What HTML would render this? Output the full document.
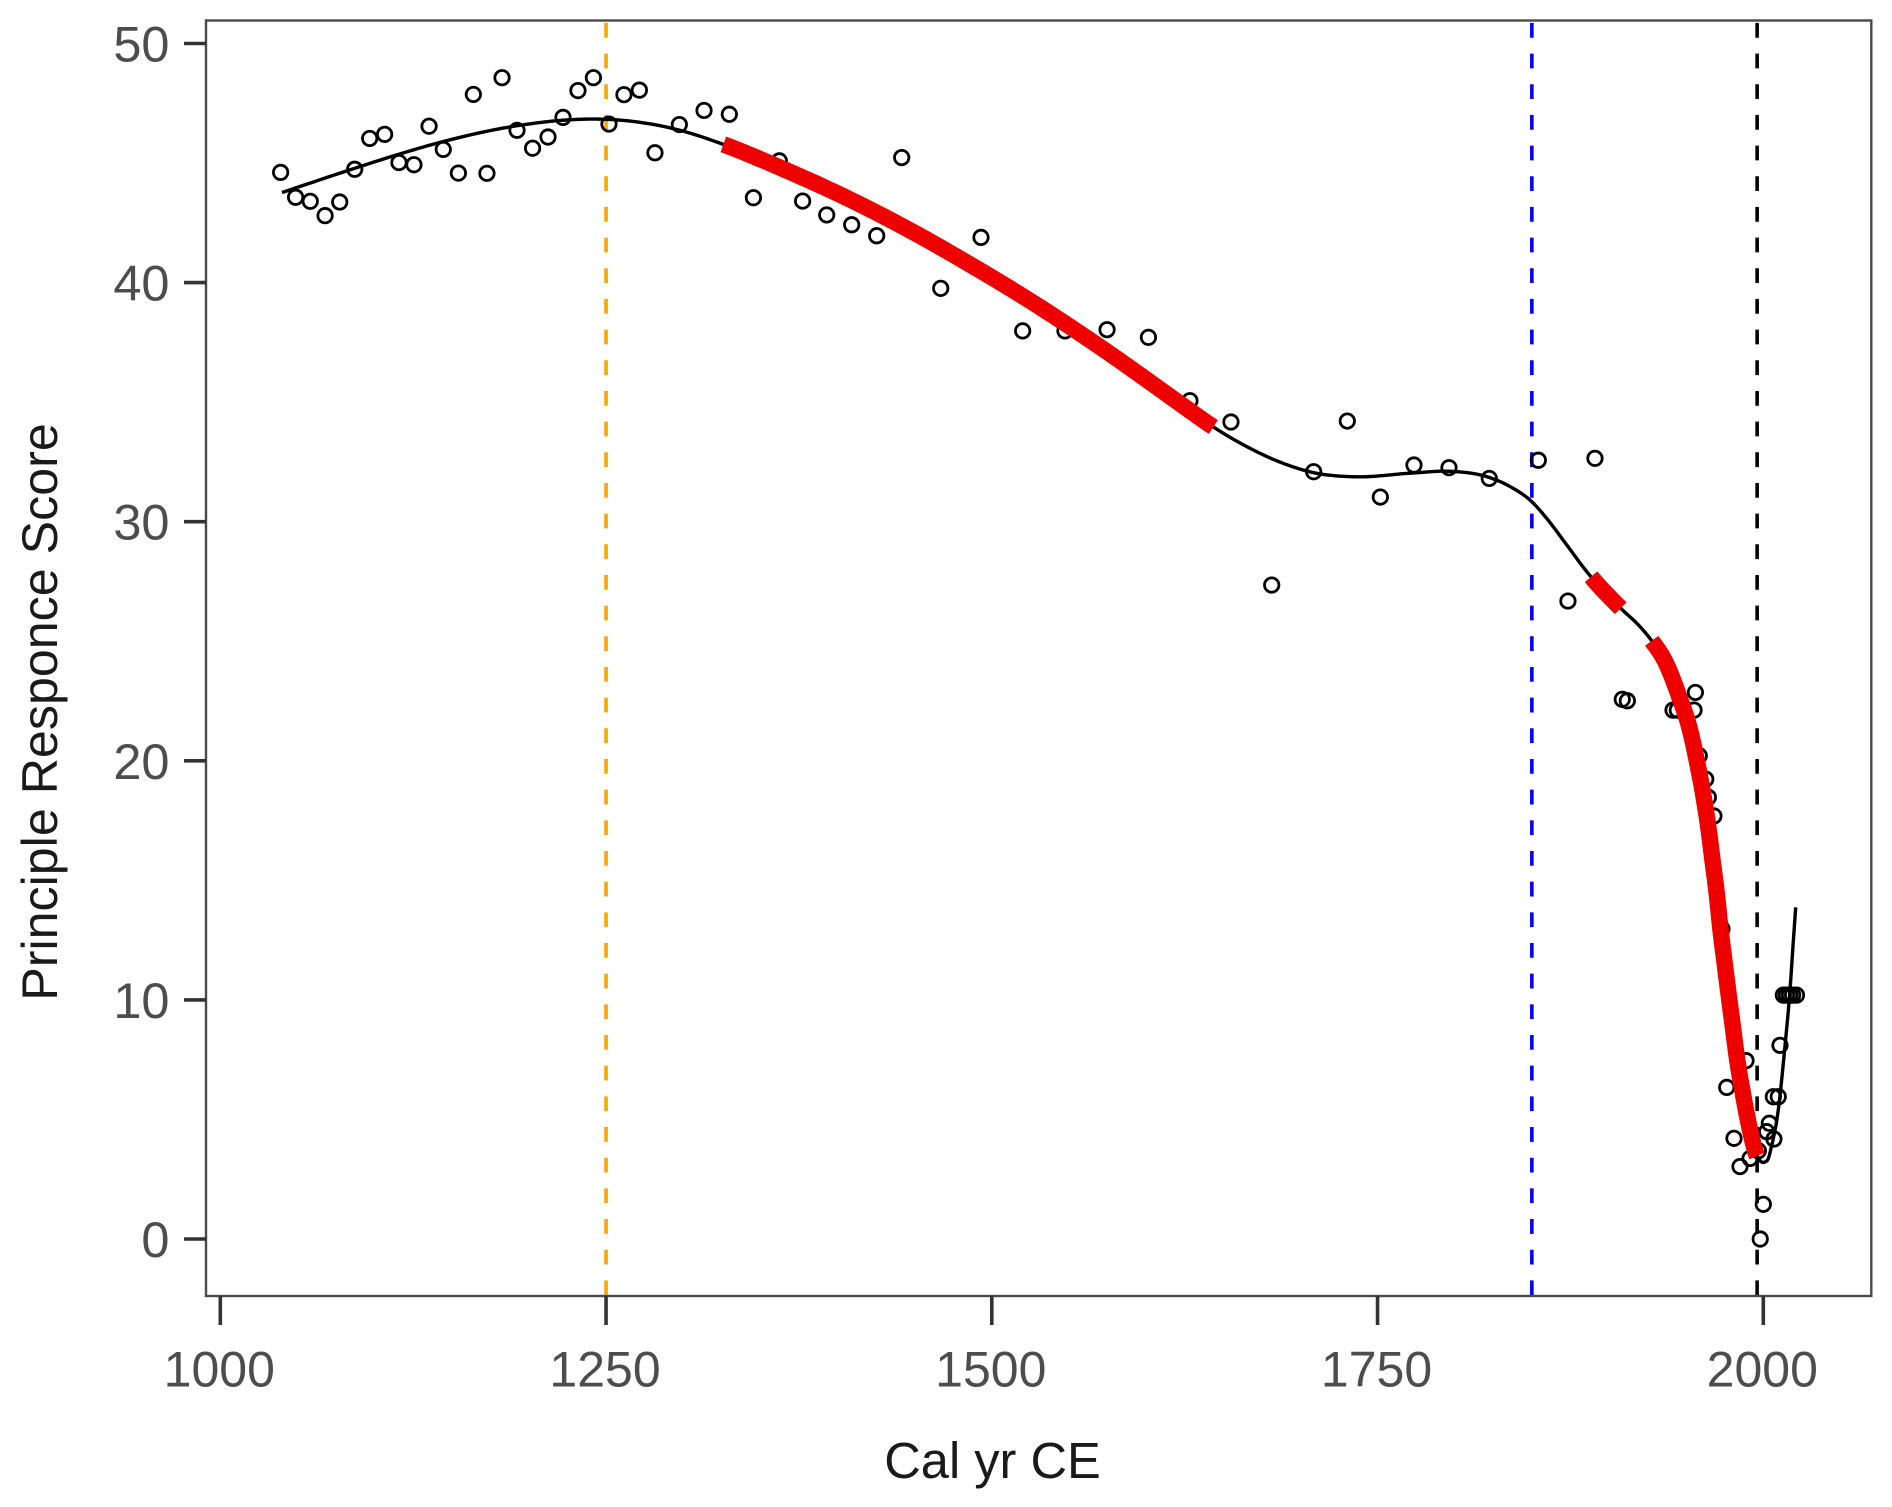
<!DOCTYPE html>
<html lang="en">
<head>
<meta charset="utf-8">
<title>Principle Responce Score by Cal yr CE</title>
<style>
html,body{margin:0;padding:0;background:#fff;width:1892px;height:1507px;overflow:hidden}
svg{display:block}
text{font-family:"Liberation Sans",sans-serif}
</style>
</head>
<body>
<svg id="chart" xmlns="http://www.w3.org/2000/svg" width="1892" height="1507" viewBox="0 0 1892 1507">
  <rect x="0" y="0" width="1892" height="1507" fill="#fff"/>
  <g id="vlines"></g>
  <g id="points" fill="none" stroke="#000" stroke-width="2.8"></g>
  <g id="curves" fill="none"></g>
  <rect x="206" y="20.5" width="1665.3" height="1275.5" fill="none" stroke="#4a4a4a" stroke-width="2.4"/>
  <g id="xaxis"></g>
  <g id="yaxis"></g>
  <text x="992.5" y="1478" text-anchor="middle" font-size="50.6" fill="#1a1a1a">Cal yr CE</text>
  <text transform="translate(57,712) rotate(-90)" text-anchor="middle" font-size="50.2" fill="#1a1a1a">Principle Responce Score</text>
</svg>
<script>
var xTicks = [1000, 1250, 1500, 1750, 2000];
var yTicks = [0, 10, 20, 30, 40, 50];
var vlineYears = [1250, 1850, 1996];
var vlineColors = ["#ffa500", "#0000ff", "#000000"];
var pointYears = [1039.1,1048.8,1058.3,1067.9,1077.4,1087.1,1096.8,1106.5,1115.8,1125.5,1135.3,1144.5,1154.3,1164,1172.8,1182.6,1192.3,1202.4,1212.4,1222.1,1231.8,1241.8,1251.9,1261.6,1271.6,1281.7,1297.5,1313.5,1329.9,1345.5,1362.3,1377.4,1393,1409.2,1425.4,1441.6,1466.9,1493,1520,1547.4,1574.7,1601.5,1628.4,1655,1681.4,1708.6,1730.4,1751.8,1773.6,1796.3,1822.4,1854.2,1873.4,1890.9,1908.6,1911.9,1941.5,1944.3,1955.1,1956,1958.5,1962.7,1964.4,1968,1973.2,1976.3,1981,1984.9,1988.8,1991.4,1996.8,1998,2000,2002.2,2003.9,2006.5,2006.9,2009.7,2010.8,2013,2015,2017,2019,2021.5];
var pointScores = [44.61,43.57,43.40,42.80,43.37,44.74,46.03,46.20,45.02,44.93,46.54,45.57,44.58,47.87,44.57,48.57,46.37,45.62,46.09,46.91,48.03,48.57,46.63,47.86,48.05,45.43,46.61,47.20,47.04,43.55,45.09,43.41,42.83,42.42,41.96,45.23,39.76,41.89,37.98,37.98,38.03,37.71,35.06,34.17,27.35,32.09,34.21,31.03,32.37,32.26,31.81,32.57,26.68,32.65,22.57,22.51,22.12,22.12,22.12,22.86,20.21,19.23,18.47,17.69,12.97,6.34,4.21,3.03,7.46,3.37,3.69,0,1.45,4.49,4.84,5.95,4.18,5.95,8.10,10.2,10.2,10.2,10.2,10.2];
var curveYears = [1040,1087.1,1115.8,1144.5,1192.3,1222.1,1241.5,1263.4,1297.3,1326,1362.3,1397.3,1440.5,1483.7,1526.7,1570.1,1602.5,1624.1,1643.6,1667.3,1688.9,1708.6,1734.1,1773.6,1796.3,1822.4,1835.9,1849.9,1859.6,1872.6,1885.6,1907.6,1920.1,1927.7,1936.9,1945.5,1952.5,1957.2,1961.3,1964.6,1967.3,1970,1972.2,1974.7,1977.4,1980.2,1983.1,1986.7,1991,1995.7,1997.8,2001,2003.4,2005,2009.7,2014,2017.3,2019.2,2021];
var curveScores = [43.77,44.78,45.37,45.90,46.56,46.79,46.84,46.77,46.38,45.78,44.82,43.81,42.41,40.84,39.16,37.31,35.84,34.84,33.96,33.07,32.44,32.05,31.88,32.04,32.11,31.85,31.47,30.84,30.14,29.03,27.91,26.38,25.61,25.02,24.09,22.68,21.29,19.91,18.50,17.11,15.73,14.35,12.97,11.67,10.29,8.91,7.49,6.11,4.68,3.51,3.28,3.22,3.39,3.79,5.40,8.04,10.41,12.21,13.87];
var changeStarts = [1326, 1887.2, 1927.7];
var changeEnds = [1643.6, 1907.6, 1996];

var NS = 'http://www.w3.org/2000/svg';
function xScale(v) { return 220.3 + (v - 1000) * 1.543; }
function yScale(v) { return 1239 - v * 23.91; }
function make(tag, parent, attrs) {
  var el = document.createElementNS(NS, tag);
  for (var k in attrs) el.setAttribute(k, attrs[k]);
  document.getElementById(parent).appendChild(el);
  return el;
}

/* reference lines */
vlineYears.forEach(function (yr, i) {
  var el = make('line', 'vlines', {
    x1: xScale(yr), x2: xScale(yr), y1: 22.9, y2: 1296,
    stroke: vlineColors[i], 'stroke-width': 3.6, 'stroke-dasharray': '14.8 15.87'
  });
  
  
});

/* points */
pointYears.forEach(function (yr, i) {
  var el = make('circle', 'points', { cx: xScale(yr), cy: yScale(pointScores[i]), r: 7.2 });
  
  
});

/* smooth curve: cubic Hermite through the values */
function sampleCurve() {
  var out = [], n = curveYears.length, m = [];
  for (var i = 0; i < n; i++) {
    if (i === 0) m.push((curveScores[1] - curveScores[0]) / (curveYears[1] - curveYears[0]));
    else if (i === n - 1) m.push((curveScores[n - 1] - curveScores[n - 2]) / (curveYears[n - 1] - curveYears[n - 2]));
    else {
      var h0 = curveYears[i] - curveYears[i - 1], h1 = curveYears[i + 1] - curveYears[i];
      var d0 = (curveScores[i] - curveScores[i - 1]) / h0, d1 = (curveScores[i + 1] - curveScores[i]) / h1;
      m.push((d0 * h1 + d1 * h0) / (h0 + h1));
    }
  }
  for (var s = 0; s < n - 1; s++) {
    var h = curveYears[s + 1] - curveYears[s];
    var steps = 16;
    for (var j = 0; j < steps; j++) {
      var t = j / steps, t2 = t * t, t3 = t2 * t;
      out.push([
        curveYears[s] + t * h,
        (2 * t3 - 3 * t2 + 1) * curveScores[s] + (t3 - 2 * t2 + t) * h * m[s] +
        (-2 * t3 + 3 * t2) * curveScores[s + 1] + (t3 - t2) * h * m[s + 1]
      ]);
    }
  }
  out.push([curveYears[n - 1], curveScores[n - 1]]);
  return out;
}
var samples = sampleCurve();
function toPoints(list) {
  return list.map(function (p) { return xScale(p[0]).toFixed(2) + ',' + yScale(p[1]).toFixed(2); }).join(' ');
}
var mainLine = make('polyline', 'curves', { points: toPoints(samples), stroke: '#000', 'stroke-width': 3.4, 'stroke-linejoin': 'round' });



changeStarts.forEach(function (start, i) {
  var seg = samples.filter(function (p) { return p[0] >= start && p[0] <= changeEnds[i]; });
  var el = make('polyline', 'curves', { points: toPoints(seg), stroke: '#ee0000', 'stroke-width': 16.5, 'stroke-linejoin': 'round', 'stroke-linecap': 'butt' });
  
  
});

/* axes */
xTicks.forEach(function (t) {
  var tick = make('line', 'xaxis', { x1: xScale(t), x2: xScale(t), y1: 1296, y2: 1325, stroke: '#333', 'stroke-width': 3.6 });
  
  
  var label = make('text', 'xaxis', { x: xScale(t) - 1, y: 1386.5, 'text-anchor': 'middle', 'font-size': 50, fill: '#4d4d4d' });
  label.textContent = t;
  
  
});
yTicks.forEach(function (t) {
  var tick = make('line', 'yaxis', { x1: 184, x2: 206, y1: yScale(t), y2: yScale(t), stroke: '#333', 'stroke-width': 3.6 });
  
  
  var label = make('text', 'yaxis', { x: 169.5, y: yScale(t) + 18, 'text-anchor': 'end', 'font-size': 50.5, fill: '#4d4d4d' });
  label.textContent = t;
  
  
});
</script>
</body>
</html>
